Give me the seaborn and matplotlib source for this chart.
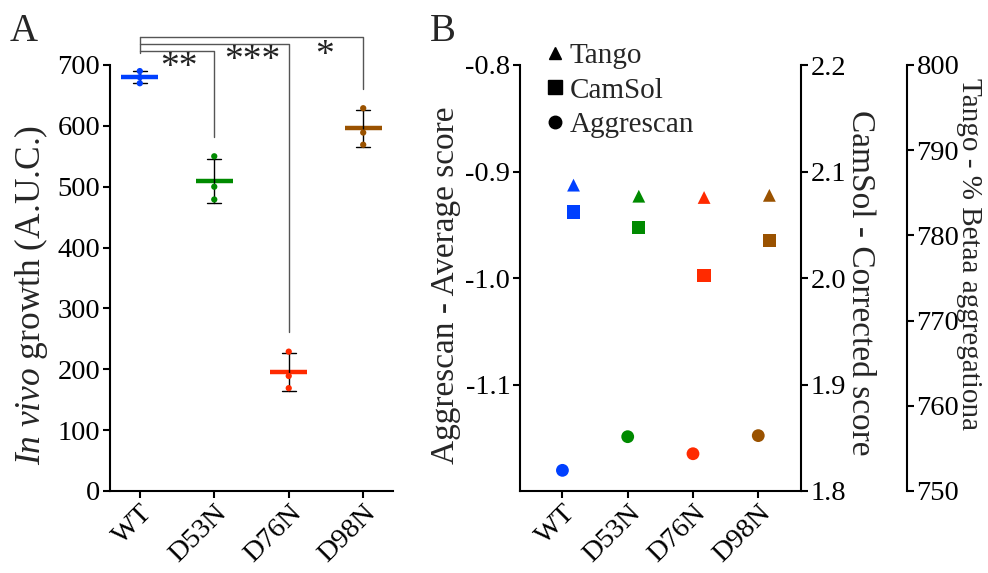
import numpy as np
import pandas as pd
import matplotlib
matplotlib.use("Agg")
import matplotlib.pyplot as plt
from matplotlib.lines import Line2D
import seaborn as sns

# ---------------- data ----------------
variants = ["WT", "D53N", "D76N", "D98N"]
colors = ["#0040FF", "#008A00", "#FF2A00", "#9A5200"]

growth_WT = [690, 680, 670]
growth_D53N = [550, 500, 479]
growth_D76N = [229, 189, 169]
growth_D98N = [629, 589, 569]

sig_labels = ["**", "***", "*"]
sig_levels = [723.5, 734.5, 746.5]
sig_drop_to = [581, 262, 661]

growth_ticks = [0, 100, 200, 300, 400, 500, 600, 700]

aggrescan = [-1.1806, -1.149, -1.165, -1.148]
camsol = [2.062, 2.0475, 2.0025, 2.0353]
tango = [785.9, 784.6, 784.45, 784.7]

aggrescan_ticks = [-1.1, -1.0, -0.9, -0.8]
aggrescan_labels = ["-1.1", "-1.0", "-0.9", "-0.8"]
camsol_ticks = [1.8, 1.9, 2.0, 2.1, 2.2]
camsol_labels = ["1.8", "1.9", "2.0", "2.1", "2.2"]
tango_ticks = [750, 760, 770, 780, 790, 800]

# ---------------- style ----------------
sns.set_theme(style="ticks")
plt.rcParams["font.family"] = ["Liberation Serif", "DejaVu Serif"]
plt.rcParams["mathtext.fontset"] = "custom"
plt.rcParams["mathtext.rm"] = "Liberation Serif"
plt.rcParams["mathtext.it"] = "Liberation Serif:italic"
plt.rcParams["axes.unicode_minus"] = False

TICK_FS = 20.5
LABEL_FS = 24
SPINE_W = 1.5

W, H = 988, 573
fig = plt.figure(figsize=(W / 100, H / 100), dpi=100)


def style_axis(ax):
    ax.tick_params(axis="both", direction="out", length=5, width=SPINE_W,
                   labelsize=TICK_FS, pad=2, color="black", labelcolor="black")
    for s in ax.spines.values():
        s.set_linewidth(SPINE_W)
        s.set_color("black")


# ---------------- panel A ----------------
axA = fig.add_axes([110 / W, 82 / H, 283 / W, 426 / H])
df = pd.DataFrame({
    "variant": np.repeat(variants, 3),
    "growth": growth_WT + growth_D53N + growth_D76N + growth_D98N,
})
means = df.groupby("variant", sort=False)["growth"].mean()
xs = np.arange(len(variants))
axA.hlines(means.values, xs - 0.25, xs + 0.25, colors=colors, lw=3.2, zorder=2)
sns.pointplot(data=df, x="variant", y="growth", errorbar="sd", capsize=0.19,
              color="black", linestyle="none", marker="none",
              err_kws={"linewidth": 1.0, "zorder": 3}, ax=axA)
sns.stripplot(data=df, x="variant", y="growth", hue="variant", palette=colors,
              jitter=False, size=4.5, linewidth=0, ax=axA, legend=False, zorder=4)

axA.set_xlim(-0.4, 3.4)
axA.set_ylim(0, 700)
axA.set_yticks(growth_ticks)
axA.set_xticks(xs)
axA.set_xticklabels(variants, rotation=45, ha="right", rotation_mode="anchor")
axA.set_xlabel("")
axA.set_ylabel(r"$\mathit{In\ vivo}$ growth (A.U.C.)", fontsize=25.5,
               va="center", ha="center")
axA.yaxis.set_label_coords(-0.279, 0.46)
sns.despine(ax=axA)
style_axis(axA)

# significance brackets
axA.plot([0, 0], [719, max(sig_levels)], color="#555555", lw=1, clip_on=False)
star_pos = [(0.52, 695), (1.51, 707), (2.48, 715)]
for i, (lab, lev, end) in enumerate(zip(sig_labels, sig_levels, sig_drop_to)):
    axA.plot([0, i + 1, i + 1], [lev, lev, end], color="#555555", lw=1, clip_on=False)
    axA.text(star_pos[i][0], star_pos[i][1], lab, ha="center", va="center",
             fontsize=27, color="#222222")

fig.text(10 / W, 1 - 13 / H, "A", fontsize=28, va="top", ha="left")

# ---------------- panel B ----------------
axB = fig.add_axes([520 / W, 82 / H, 280.7 / W, 426 / H])
axC = axB.twinx()
axT = axB.twinx()

dfB = pd.DataFrame({"variant": variants, "aggrescan": aggrescan,
                    "camsol": camsol, "tango": tango})
dfB["pos"] = np.arange(len(variants))
dfB["pos_shift"] = dfB["pos"] + 0.17

sns.scatterplot(data=dfB, x="pos", y="aggrescan", hue="variant", palette=colors,
                marker="o", s=85, linewidth=0, ax=axB, legend=False)
sns.scatterplot(data=dfB, x="pos_shift", y="camsol", hue="variant", palette=colors,
                marker="s", s=90, linewidth=0, ax=axC, legend=False)
sns.scatterplot(data=dfB, x="pos_shift", y="tango", hue="variant", palette=colors,
                marker="^", s=85, linewidth=0, ax=axT, legend=False)

for ax in (axB, axC, axT):
    ax.set_xlim(-0.65, 3.65)
    ax.set_xlabel("")

axB.set_ylim(-1.2, -0.8)
axB.set_yticks(aggrescan_ticks)
axB.set_yticklabels(aggrescan_labels)
axC.set_ylim(1.8, 2.2)
axC.set_yticks(camsol_ticks)
axC.set_yticklabels(camsol_labels)
axT.set_ylim(750, 800)
axT.set_yticks(tango_ticks)

axB.set_xticks(np.arange(len(variants)))
axB.set_xticklabels(variants, rotation=45, ha="right", rotation_mode="anchor")

axB.spines["top"].set_visible(False)
axB.spines["right"].set_visible(False)
for ax in (axC, axT):
    ax.spines["top"].set_visible(False)
    ax.spines["left"].set_visible(False)
    ax.spines["bottom"].set_visible(False)
axT.spines["right"].set_position(("outward", 106 * 0.72))

for ax in (axB, axC, axT):
    style_axis(ax)

axB.set_ylabel("Aggrescan - Average score", fontsize=LABEL_FS,
               va="center", ha="center")
axB.yaxis.set_label_coords(-0.264, 0.484)
axC.set_ylabel("CamSol - Corrected score", fontsize=LABEL_FS, rotation=270,
               va="center", ha="center")
axC.yaxis.set_label_coords(1.212, 0.49)
axT.set_ylabel("Tango - % Betaa aggregationa", fontsize=21, rotation=270,
               va="center", ha="center")
axT.yaxis.set_label_coords(1.6, 0.557)

handles = [Line2D([], [], marker=m, color="black", linestyle="none", markersize=ms)
           for m, ms in (("^", 9), ("s", 9.5), ("o", 9))]
axB.legend(handles, ["Tango", "CamSol", "Aggrescan"], loc="upper left",
           bbox_to_anchor=(543 / W, 1 - 43 / H), bbox_transform=fig.transFigure,
           frameon=False, fontsize=21, handlelength=0.8, handletextpad=0.1,
           borderpad=0, borderaxespad=0, labelspacing=0.27)

fig.text(430 / W, 1 - 13 / H, "B", fontsize=28, va="top", ha="left")

fig.savefig("out.png", dpi=100)
